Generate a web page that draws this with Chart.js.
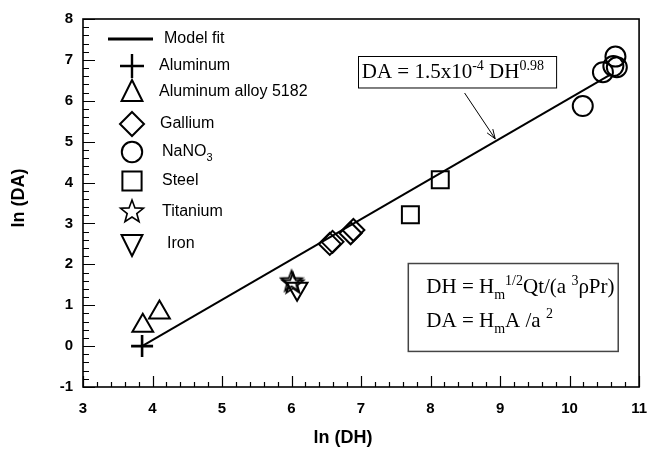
<!DOCTYPE html>
<html>
<head>
<meta charset="utf-8">
<script src="https://cdn.jsdelivr.net/npm/chart.js@4"></script>
<style>
  html, body { margin: 0; padding: 0; background: #fff; }
  #wrap { width: 660px; height: 453px; position: relative; }
</style>
</head>
<body>
<div id="wrap"><canvas id="chart"></canvas></div>
<script>
// --- data (ln DH, ln DA) ---
const aluminum      = [{x: 3.85, y: 0.00}];
const aluminumAlloy = [{x: 3.86, y: 0.50}, {x: 4.10, y: 0.82}];
const gallium       = [{x: 6.55, y: 2.50}, {x: 6.59, y: 2.55}, {x: 6.85, y: 2.76}, {x: 6.89, y: 2.84}];
const nano3         = [{x: 10.19, y: 5.87}, {x: 10.48, y: 6.70}, {x: 10.63, y: 6.85}, {x: 10.68, y: 6.82}, {x: 10.66, y: 7.08}];
const steel         = [{x: 7.71, y: 3.21}, {x: 8.14, y: 4.07}];
const titanium      = [{x: 6.00, y: 1.60}, {x: 6.02, y: 1.55}];
const iron          = [{x: 6.08, y: 1.40}];
const modelFit      = [{x: 3.85, y: 0.00}, {x: 10.60, y: 6.65}];

const xTicks = [3, 4, 5, 6, 7, 8, 9, 10, 11];
const yTicks = [-1, 0, 1, 2, 3, 4, 5, 6, 7, 8];

const legendLabels = ['Model fit', 'Aluminum', 'Aluminum alloy 5182', 'Gallium', 'NaNO3', 'Steel', 'Titanium', 'Iron'];

// --- a 5 point star, Chart.js has none ---
function starPath(ctx, cx, cy, r) {
    const inner = r * 0.42;
    ctx.beginPath();
    for (let i = 0; i < 10; i++) {
        const rr = i % 2 === 0 ? r : inner;
        const a = -Math.PI / 2 + i * Math.PI / 5;
        const px = cx + rr * Math.cos(a), py = cy + rr * Math.sin(a);
        if (i === 0) ctx.moveTo(px, py); else ctx.lineTo(px, py);
    }
    ctx.closePath();
}
const starCanvas = document.createElement('canvas');
starCanvas.width = 26; starCanvas.height = 26;
(function() {
    const c = starCanvas.getContext('2d');
    c.strokeStyle = '#000'; c.lineWidth = 1.8; c.lineJoin = 'miter';
    starPath(c, 13, 14, 11);
    c.stroke();
})();

// --- draw a legend marker ---
function drawMarker(ctx, kind, x, y, r) {
    ctx.save();
    ctx.strokeStyle = '#000';
    ctx.lineWidth = 2;
    ctx.beginPath();
    switch (kind) {
        case 'cross':
            ctx.lineWidth = 2.4;
            ctx.moveTo(x - r, y); ctx.lineTo(x + r, y);
            ctx.moveTo(x, y - r); ctx.lineTo(x, y + r);
            break;
        case 'triangle':
            ctx.moveTo(x, y - r);
            ctx.lineTo(x + r * 0.87, y + r * 0.75);
            ctx.lineTo(x - r * 0.87, y + r * 0.75);
            ctx.closePath();
            break;
        case 'invtriangle':
            ctx.moveTo(x, y + r);
            ctx.lineTo(x + r * 0.87, y - r * 0.75);
            ctx.lineTo(x - r * 0.87, y - r * 0.75);
            ctx.closePath();
            break;
        case 'diamond':
            ctx.moveTo(x, y - r); ctx.lineTo(x + r, y); ctx.lineTo(x, y + r); ctx.lineTo(x - r, y);
            ctx.closePath();
            break;
        case 'circle':
            ctx.arc(x, y, r * 0.85, 0, Math.PI * 2);
            break;
        case 'square':
            ctx.rect(x - r * 0.8, y - r * 0.8, r * 1.6, r * 1.6);
            break;
        case 'star':
            ctx.lineWidth = 1.6;
            starPath(ctx, x, y, r);
            break;
    }
    ctx.stroke();
    ctx.restore();
}

// --- text with sub / superscripts ---
function drawRich(ctx, parts, x, y, size) {
    let cx = x;
    parts.forEach(p => {
        const small = p.sup || p.sub;
        ctx.font = (small ? Math.round(size * 0.68) : size) + 'px "Liberation Serif", "Times New Roman", serif';
        const dy = p.sup ? -size * 0.4 : (p.sub ? size * 0.3 : 0);
        ctx.fillText(p.t, cx, y + dy);
        cx += ctx.measureText(p.t).width;
    });
}

const framePlugin = {
    id: 'frame',
    afterDraw(chart) {
        const ctx = chart.ctx;
        const area = chart.chartArea;
        const xs = chart.scales.x, ys = chart.scales.y;
        const X = v => xs.getPixelForValue(v), Y = v => ys.getPixelForValue(v);
        ctx.save();
        ctx.strokeStyle = '#000';
        ctx.fillStyle = '#000';

        // inward ticks
        ctx.lineWidth = 1.2;
        ctx.beginPath();
        for (let i = 0; i <= 40; i++) {
            const v = 3 + i * 0.2;
            const len = i % 5 === 0 ? 11 : 5;
            const px = Math.round(X(v)) + 0.5;
            ctx.moveTo(px, area.bottom); ctx.lineTo(px, area.bottom - len);
        }
        for (let i = 0; i <= 45; i++) {
            const v = -1 + i * 0.2;
            const len = i % 5 === 0 ? 12 : 6;
            const py = Math.round(Y(v)) + 0.5;
            ctx.moveTo(area.left, py); ctx.lineTo(area.left + len, py);
        }
        ctx.stroke();

        // frame
        ctx.lineWidth = 1.6;
        ctx.strokeRect(area.left, area.top, area.right - area.left, area.bottom - area.top);

        // axis titles
        ctx.font = 'bold 18px "Liberation Sans", Arial, sans-serif';
        ctx.textAlign = 'center';
        ctx.textBaseline = 'middle';
        ctx.fillText('ln (DH)', (area.left + area.right) / 2 - 18, 438);
        ctx.save();
        ctx.translate(19, 198);
        ctx.rotate(-Math.PI / 2);
        ctx.fillText('ln (DA)', 0, 0);
        ctx.restore();

        // legend
        const lx = area.left, ly = area.top;
        ctx.lineWidth = 3;
        ctx.beginPath();
        ctx.moveTo(lx + 25, ly + 20); ctx.lineTo(lx + 70, ly + 20);
        ctx.stroke();
        const rows = [
            {kind: null,          dy: 20,  tx: 81},
            {kind: 'cross',       dy: 47,  tx: 76},
            {kind: 'triangle',    dy: 73,  tx: 76},
            {kind: 'diamond',     dy: 105, tx: 77},
            {kind: 'circle',      dy: 133, tx: 79},
            {kind: 'square',      dy: 162, tx: 79},
            {kind: 'star',        dy: 193, tx: 79},
            {kind: 'invtriangle', dy: 225, tx: 84}
        ];
        ctx.font = '16px "Liberation Sans", Arial, sans-serif';
        ctx.textAlign = 'left';
        ctx.textBaseline = 'middle';
        rows.forEach((r, i) => {
            if (r.kind) drawMarker(ctx, r.kind, lx + 49, ly + r.dy, 12);
            const label = legendLabels[i];
            if (label === 'NaNO3') {
                ctx.fillText('NaNO', lx + r.tx, ly + r.dy);
                const w = ctx.measureText('NaNO').width;
                ctx.font = '11px "Liberation Sans", Arial, sans-serif';
                ctx.fillText('3', lx + r.tx + w, ly + r.dy + 6);
                ctx.font = '16px "Liberation Sans", Arial, sans-serif';
            } else {
                ctx.fillText(label, lx + r.tx, ly + r.dy);
            }
        });

        // fitted equation box + arrow
        ctx.lineWidth = 1;
        ctx.strokeRect(Math.round(X(6.96)) + 0.5, Math.round(Y(7.10)) + 0.5, X(9.81) - X(6.96), Y(6.33) - Y(7.10));
        ctx.textBaseline = 'alphabetic';
        drawRich(ctx, [{t: 'DA = 1.5x10'}, {t: '-4', sup: true}, {t: ' DH'}, {t: '0.98', sup: true}], X(7.01), Y(6.55), 21);

        const ax0 = X(8.49), ay0 = Y(6.19), ax1 = X(8.93), ay1 = Y(5.07);
        ctx.beginPath();
        ctx.moveTo(ax0, ay0); ctx.lineTo(ax1, ay1);
        const ang = Math.atan2(ay1 - ay0, ax1 - ax0);
        ctx.moveTo(ax1, ay1); ctx.lineTo(ax1 - 10 * Math.cos(ang - 0.35), ay1 - 10 * Math.sin(ang - 0.35));
        ctx.moveTo(ax1, ay1); ctx.lineTo(ax1 - 10 * Math.cos(ang + 0.35), ay1 - 10 * Math.sin(ang + 0.35));
        ctx.stroke();

        // definitions box
        ctx.strokeStyle = '#444';
        ctx.lineWidth = 1.5;
        ctx.strokeRect(X(7.68), Y(2.02), X(10.70) - X(7.68), Y(-0.13) - Y(2.02));
        drawRich(ctx, [{t: 'DH = H'}, {t: 'm', sub: true}, {t: '1/2', sup: true}, {t: 'Qt/(a '}, {t: '3', sup: true}, {t: 'ρPr)'}], X(7.94), Y(1.30), 21);
        drawRich(ctx, [{t: 'DA = H'}, {t: 'm', sub: true}, {t: 'A /a '}, {t: '2', sup: true}], X(7.94), Y(0.475), 21);
        ctx.restore();
    }
};

const hollow = 'rgba(0,0,0,0)';
function pts(data, style, radius, extra) {
    return Object.assign({
        data: data,
        pointStyle: style,
        pointRadius: radius,
        pointHoverRadius: radius,
        pointBorderColor: '#000',
        pointBackgroundColor: hollow,
        pointBorderWidth: 2,
        showLine: false
    }, extra || {});
}

const ctx = document.getElementById('chart').getContext('2d');
new Chart(ctx, {
    type: 'scatter',
    data: {
        datasets: [
            {
                label: legendLabels[0], data: modelFit, showLine: true,
                borderColor: '#000', borderWidth: 2, pointRadius: 0, fill: false
            },
            pts(aluminum, 'cross', 11, {pointBorderWidth: 2.6, label: legendLabels[1]}),
            pts(aluminumAlloy, 'triangle', 12, {label: legendLabels[2]}),
            pts(gallium, 'rectRot', 11, {label: legendLabels[3]}),
            pts(nano3, 'circle', 10, {label: legendLabels[4]}),
            pts(steel, 'rect', 12, {label: legendLabels[5]}),
            pts(titanium, starCanvas, 12, {label: legendLabels[6]}),
            pts(iron, 'triangle', 12, {rotation: 180, label: legendLabels[7]})
        ]
    },
    options: {
        responsive: true,
        maintainAspectRatio: false,
        animation: false,
        layout: { padding: { left: 0, right: 20, top: 15, bottom: 0 } },
        plugins: { legend: { display: false }, tooltip: { enabled: false } },
        scales: {
            x: {
                type: 'linear', min: 3, max: 11,
                afterFit: s => { s.height = 66; },
                afterBuildTicks: s => { s.ticks = xTicks.map(v => ({value: v})); },
                grid: { display: false, drawTicks: false },
                border: { display: false },
                ticks: {
                    padding: 13, color: '#000',
                    font: { family: '"Liberation Sans", Arial, sans-serif', size: 15, weight: 'bold' }
                }
            },
            y: {
                type: 'linear', min: -1, max: 8,
                afterFit: s => { s.width = 83; },
                afterBuildTicks: s => { s.ticks = yTicks.map(v => ({value: v})); },
                grid: { display: false, drawTicks: false },
                border: { display: false },
                ticks: {
                    padding: 10, color: '#000',
                    font: { family: '"Liberation Sans", Arial, sans-serif', size: 15, weight: 'bold' }
                }
            }
        }
    },
    plugins: [framePlugin]
});
</script>
</body>
</html>
